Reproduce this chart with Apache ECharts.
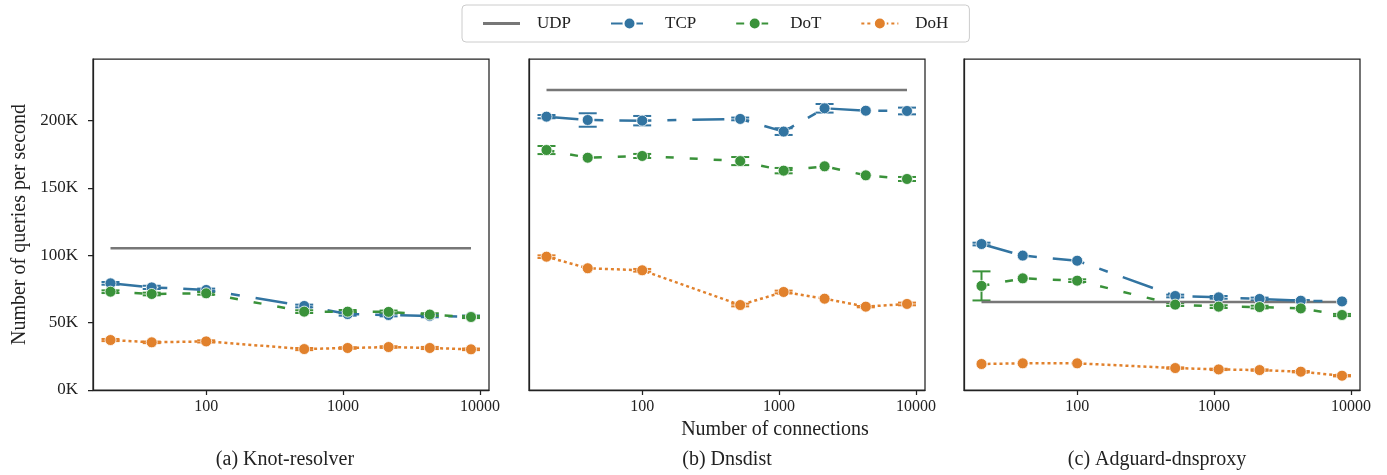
<!DOCTYPE html>
<html><head><meta charset="utf-8">
<script src="https://cdn.jsdelivr.net/npm/echarts@6/dist/echarts.min.js"></script>
<style>html,body{margin:0;padding:0;background:#fff}#c{width:1387px;height:475px}</style>
</head><body><div id="c"></div>
<script>
// x values: number of connections
const connections = [20, 40, 100, 520, 1080, 2150, 4300, 8600];
const xTicks = [100, 1000, 10000];
const panelTitles = ['(a) Knot-resolver', '(b) Dnsdist', '(c) Adguard-dnsproxy'];
const protocols = ['UDP', 'TCP', 'DoT', 'DoH'];

// values in thousands of queries per second
const knotUDP = [105.2, 105.2, 105.2, 105.2, 105.2, 105.2, 105.2, 105.2];
const knotTCP = [79.2, 76.2, 74.3, 62.4, 56.4, 55.7, 55.0, 54.5];
const knotDoT = [73.0, 71.3, 71.8, 58.2, 58.2, 58.0, 56.0, 54.2];
const knotDoH = [37.1, 35.4, 36.1, 30.4, 31.2, 31.9, 31.2, 30.2];
const knotTCPErr = [1.0, 1.2, 1.0, 1.0, 1.2, 1.0, 1.0, 0.8];
const knotDoTErr = [1.0, 1.0, 1.0, 1.0, 1.2, 1.0, 1.0, 0.8];
const knotDoHErr = [0.8, 0.6, 0.8, 0.8, 0.6, 0.6, 0.8, 0.6];

const dnsdistUDP = [222.8, 222.8, 222.8, 222.8, 222.8, 222.8, 222.8, 222.8];
const dnsdistTCP = [203.0, 200.5, 200.0, 201.3, 191.9, 209.2, 207.4, 207.2];
const dnsdistDoT = [178.2, 172.5, 173.8, 170.0, 162.9, 166.1, 159.4, 156.7];
const dnsdistDoH = [99.0, 90.4, 88.9, 63.1, 72.8, 67.8, 61.9, 63.9];
const dnsdistTCPErr = [1.2, 5.0, 3.5, 1.0, 2.5, 3.2, 0, 2.5];
const dnsdistDoTErr = [3.0, 0, 1.5, 3.0, 2.0, 0, 0, 1.5];
const dnsdistDoHErr = [1.0, 0, 1.0, 1.0, 1.0, 0, 0.5, 1.0];

const adguardUDP = [65.4, 65.4, 65.4, 65.4, 65.4, 65.4, 65.4, 65.4];
const adguardTCP = [108.4, 99.8, 96.0, 69.8, 68.8, 67.6, 66.3, 65.8];
const adguardDoT = [77.3, 82.9, 81.2, 63.4, 61.9, 61.6, 60.6, 55.7];
const adguardDoH = [19.3, 19.8, 19.8, 16.3, 15.3, 14.8, 13.6, 10.6];
const adguardTCPErr = [1.0, 0, 0, 1.0, 1.0, 1.0, 0.5, 0];
const adguardDoTErr = [10.8, 0, 1.0, 1.0, 1.0, 1.0, 0, 0.8];
const adguardDoHErr = [0, 0, 0, 0.5, 0.5, 0.5, 0.5, 0.5];

const panels = [
  {udp: knotUDP, tcp: knotTCP, dot: knotDoT, doh: knotDoH, tcpErr: knotTCPErr, dotErr: knotDoTErr, dohErr: knotDoHErr},
  {udp: dnsdistUDP, tcp: dnsdistTCP, dot: dnsdistDoT, doh: dnsdistDoH, tcpErr: dnsdistTCPErr, dotErr: dnsdistDoTErr, dohErr: dnsdistDoHErr},
  {udp: adguardUDP, tcp: adguardTCP, dot: adguardDoT, doh: adguardDoH, tcpErr: adguardTCPErr, dotErr: adguardDoTErr, dohErr: adguardDoHErr}
];

const FONT = 'Liberation Serif';
const INK = '#222';
const colors = {UDP: '#777777', TCP: '#3274a1', DoT: '#3a923a', DoH: '#e1812c'};
const dashes = {UDP: 'solid', TCP: [32, 16, 9, 16], DoT: [8, 16], DoH: [3, 3]};
const gridLefts = [93, 529, 964];
const gridW = 396;

const grids = [], xAxes = [], yAxes = [], series = [];

function renderErr(params, api) {
  const x = api.value(0), y = api.value(1), e = api.value(2);
  if (!e) return null;
  const top = api.coord([x, y + e]);
  const bot = api.coord([x, y - e]);
  const w = 9;
  const style = {stroke: api.visual('color'), lineWidth: 2};
  return {type: 'group', children: [
    {type: 'line', shape: {x1: top[0], y1: top[1], x2: bot[0], y2: bot[1]}, style: style},
    {type: 'line', shape: {x1: top[0] - w, y1: top[1], x2: top[0] + w, y2: top[1]}, style: style},
    {type: 'line', shape: {x1: bot[0] - w, y1: bot[1], x2: bot[0] + w, y2: bot[1]}, style: style}
  ]};
}

panels.forEach(function (p, i) {
  grids.push({left: gridLefts[i], top: 59, width: gridW, height: 331, show: true,
    borderColor: INK, borderWidth: 1.25, backgroundColor: 'transparent'});
  xAxes.push({type: 'log', logBase: 10, gridIndex: i, min: 14.9, max: 11640,
    axisLine: {show: true, lineStyle: {color: INK, width: 1.25}},
    axisTick: {show: true, length: 5, customValues: xTicks, lineStyle: {color: INK, width: 1.25}},
    minorTick: {show: false},
    axisLabel: {customValues: xTicks, fontFamily: FONT, fontSize: 16, color: INK, margin: 9,
      formatter: function (v) { return String(Math.round(v)); }},
    splitLine: {show: false}});
  yAxes.push({type: 'value', gridIndex: i, min: 0, max: 245.8, interval: 50,
    axisLine: {show: true, lineStyle: {color: INK, width: 1.25}},
    axisTick: {show: i === 0, length: 5, lineStyle: {color: INK, width: 1.25}},
    axisLabel: {show: i === 0, formatter: '{value}K', fontFamily: FONT, fontSize: 17, color: INK, margin: 15,
      showMaxLabel: false},
    splitLine: {show: false},
    name: i === 0 ? 'Number of queries per second' : '',
    nameLocation: 'middle', nameGap: 63,
    nameTextStyle: {fontFamily: FONT, fontSize: 20, color: INK}});

  const lines = {UDP: p.udp, TCP: p.tcp, DoT: p.dot, DoH: p.doh};
  const errs = {TCP: p.tcpErr, DoT: p.dotErr, DoH: p.dohErr};
  protocols.forEach(function (name) {
    if (errs[name]) {
      series.push({type: 'custom', name: name + ' error', xAxisIndex: i, yAxisIndex: i,
        renderItem: renderErr, itemStyle: {color: colors[name]}, z: 1, silent: true,
        encode: {x: 0, y: 1},
        data: connections.map(function (c, k) { return [c, lines[name][k], errs[name][k]]; })});
    }
    const isUdp = name === 'UDP';
    series.push({type: 'line', name: name, xAxisIndex: i, yAxisIndex: i, z: 2,
      data: connections.map(function (c, k) { return [c, lines[name][k]]; }),
      symbol: isUdp ? 'none' : 'circle', symbolSize: 11,
      itemStyle: isUdp ? {color: colors[name], borderWidth: 0}
                       : {color: colors[name], borderColor: '#fff', borderWidth: 0.8},
      lineStyle: {color: colors[name], width: 2.5, type: dashes[name]},
      emphasis: {disabled: true}, animation: false});
  });
});

const chart = echarts.init(document.getElementById('c'), null, {renderer: 'canvas'});
chart.setOption({
  animation: false,
  backgroundColor: '#fff',
  grid: grids, xAxis: xAxes, yAxis: yAxes, series: series,
  legend: {
    data: [
      {name: 'UDP', icon: 'path://M0,0H37V2.8H0Z', itemStyle: {borderWidth: 0}},
      {name: 'TCP'}, {name: 'DoT'}, {name: 'DoH'}
    ],
    left: 462, top: 5, orient: 'horizontal',
    padding: [10, 21, 10, 21], itemGap: 39, itemWidth: 37, itemHeight: 15,
    borderColor: '#cccccc', borderWidth: 1, borderRadius: 4, backgroundColor: '#fff',
    textStyle: {fontFamily: FONT, fontSize: 17, color: INK, padding: [0, 0, 0, 12]},
    selectedMode: false},
  graphic: [
    {type: 'text', x: 775, y: 430, style: {text: 'Number of connections', fontFamily: FONT, fontSize: 20, fill: INK, align: 'center', verticalAlign: 'middle'}},
    {type: 'text', x: 285, y: 460, style: {text: panelTitles[0], fontFamily: FONT, fontSize: 20, fill: INK, align: 'center', verticalAlign: 'middle'}},
    {type: 'text', x: 727, y: 460, style: {text: panelTitles[1], fontFamily: FONT, fontSize: 20, fill: INK, align: 'center', verticalAlign: 'middle'}},
    {type: 'text', x: 1157, y: 460, style: {text: panelTitles[2], fontFamily: FONT, fontSize: 20, fill: INK, align: 'center', verticalAlign: 'middle'}}
  ]
});
</script></body></html>
